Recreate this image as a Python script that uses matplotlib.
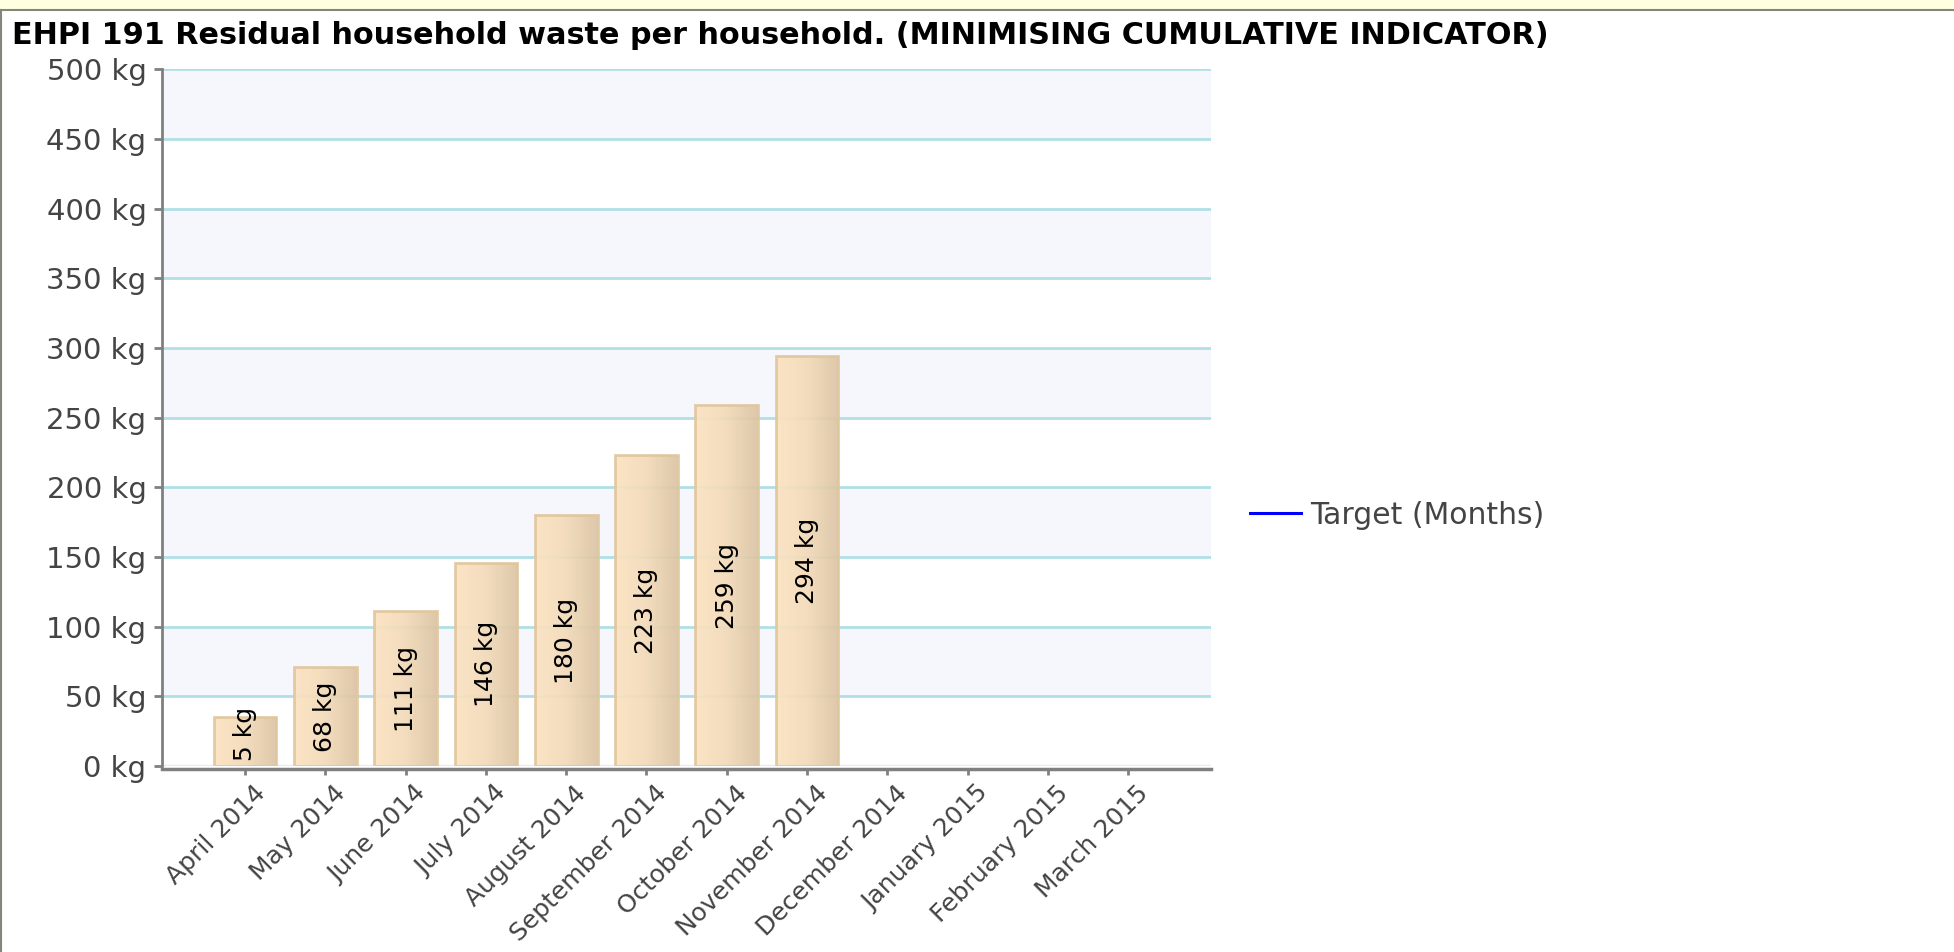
import numpy as np
import matplotlib
matplotlib.use("Agg")
import matplotlib.pyplot as plt
from matplotlib.colors import LinearSegmentedColormap
from matplotlib.lines import Line2D
from matplotlib.patches import Rectangle
from matplotlib.transforms import ScaledTranslation

# Data
months = ["April 2014", "May 2014", "June 2014", "July 2014", "August 2014",
          "September 2014", "October 2014", "November 2014", "December 2014",
          "January 2015", "February 2015", "March 2015"]
bar_values = [35, 71, 111, 146, 180, 223, 259, 294]
bar_labels = [5, 68, 111, 146, 180, 223, 259, 294]
y_ticks = [0, 50, 100, 150, 200, 250, 300, 350, 400, 450, 500]
y_tick_labels = [f"{v} kg" for v in y_ticks]
title = "EHPI 191 Residual household waste per household. (MINIMISING CUMULATIVE INDICATOR)"
legend_label = "Target (Months)"

plt.rcParams['font.family'] = ['DejaVu Sans']

W, H = 1954, 952
fig = plt.figure(figsize=(W / 100, H / 100), dpi=100)
fig.patch.set_facecolor('white')

# axes placed to match the reference pixel box
ax = fig.add_axes([161.7 / W, 1 - 766 / H, (1210.7 - 161.7) / W, (766 - 69.3) / H])
ax.set_facecolor('white')

# alternating bands and gridlines
for lo in y_ticks[1:-1:2]:
    ax.axhspan(lo, lo + 50, color='#F6F7FD', lw=0, zorder=0)
for v in y_ticks[1:]:
    ax.axhline(v, color='#B0E0E6', lw=2.0, zorder=1)
ax.axhline(0, color='#EBEBEB', lw=2.5, zorder=1)

# bars with a left-to-right gradient
cmap = LinearSegmentedColormap.from_list('bar', ['#FCE3C0', '#F2DAB8', '#DCC4A4'])
grad = np.linspace(0, 1, 64).reshape(1, -1)
width = 0.78
for i, v in enumerate(bar_values):
    x0 = i - width / 2
    rect = Rectangle((x0, 0), width, v, facecolor='none', edgecolor='#E0C69E',
                     lw=2.0, zorder=3, alpha=0.9)
    ax.add_patch(rect)
    img = ax.imshow(grad, extent=[x0, x0 + width, 0, v], aspect='auto',
                    cmap=cmap, zorder=2, alpha=0.92, interpolation='bilinear')
    img.set_clip_path(rect)
    ax.text(i, max(v / 2, 23), f"{bar_labels[i]} kg", rotation=90, ha='center',
            va='center', fontsize=18, color='black', zorder=4)

ax.set_xlim(-1.04, 12.03)
ax.set_ylim(0, 500)

# axes styling
for s in ['top', 'right']:
    ax.spines[s].set_visible(False)
ax.spines['left'].set_color('#808080')
ax.spines['left'].set_linewidth(2.0)
ax.spines['bottom'].set_color('#808080')
ax.spines['bottom'].set_linewidth(2.5)
ax.spines['bottom'].set_position(('outward', 2.2))

ax.set_yticks(y_ticks)
ax.set_yticklabels(y_tick_labels)
ax.set_xticks(range(len(months)))
ax.set_xticklabels(months, rotation=45, ha='right', va='top', rotation_mode='anchor')
ax.tick_params(axis='y', length=6, width=2.0, color='#808080', labelsize=21,
               labelcolor='#444444', pad=5)
ax.tick_params(axis='x', length=4.5, width=2.0, color='#808080', labelsize=18,
               labelcolor='#444444', pad=4)
for lab in ax.get_xticklabels():
    lab.set_transform(lab.get_transform() + ScaledTranslation(8 / 100, 0, fig.dpi_scale_trans))

# legend
ax.plot([], [], color='#0000FF', lw=2.2, label=legend_label)
fig.legend(loc='center left', bbox_to_anchor=(1250 / W, 1 - 515 / H), frameon=False,
           fontsize=21.5, labelcolor='#444444', handlelength=1.7, handletextpad=0.3,
           borderpad=0, borderaxespad=0)

# title
fig.text(12 / W, 1 - 44 / H, title, fontsize=21.8, fontweight='bold', color='black',
         ha='left', va='baseline')

# window chrome: yellow strip on top and grey frame lines
fig.patches.append(Rectangle((0, 1 - 9 / H), 1, 9 / H, transform=fig.transFigure,
                             facecolor='#FFFFE1', edgecolor='none', zorder=0))
fig.add_artist(Line2D([0, 1], [1 - 10 / H, 1 - 10 / H], transform=fig.transFigure,
                      color='#85857A', lw=1.5))
fig.add_artist(Line2D([1 / W, 1 / W], [0, 1 - 10 / H], transform=fig.transFigure,
                      color='#85857A', lw=1.5))

fig.savefig('out.png', dpi=100)
